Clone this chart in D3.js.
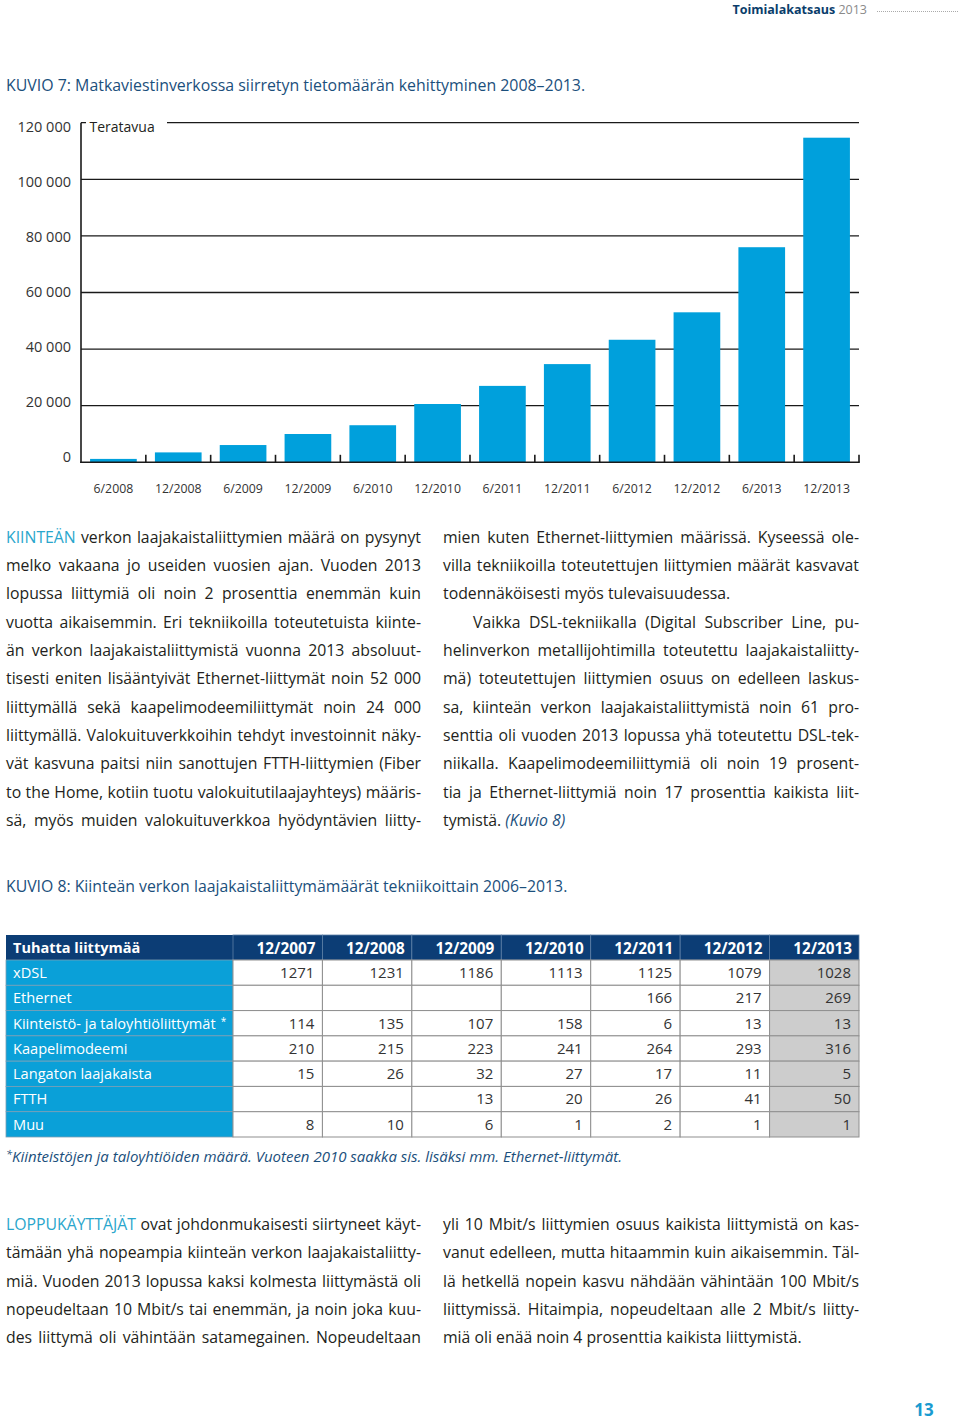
<!DOCTYPE html>
<html><head><meta charset="utf-8">
<script src="https://cdn.jsdelivr.net/npm/d3@7"></script>
<style>html,body{margin:0;padding:0;background:#fff;}svg{display:block;font-family:"Open Sans",sans-serif;}</style>
</head><body>
<script>
// ---------- DATA ----------
const chartTitle = "KUVIO 7: Matkaviestinverkossa siirretyn tietomäärän kehittyminen 2008–2013.";
const unitLabel = "Teratavua";
const categories = ["6/2008","12/2008","6/2009","12/2009","6/2010","12/2010","6/2011","12/2011","6/2012","12/2012","6/2013","12/2013"];
const values = [1200,3500,6100,10000,13100,20600,27000,34700,43300,53000,76000,114700];
const yTicks = [0,20000,40000,60000,80000,100000,120000];

const tableTitle = "KUVIO 8: Kiinteän verkon laajakaistaliittymämäärät tekniikoittain 2006–2013.";
const tableHeader = "Tuhatta liittymää";
const years = ["12/2007","12/2008","12/2009","12/2010","12/2011","12/2012","12/2013"];
const rowNames = ["xDSL","Ethernet","Kiinteistö- ja taloyhtiöliittymät","Kaapelimodeemi","Langaton laajakaista","FTTH","Muu"];
const xdsl = [1271,1231,1186,1113,1125,1079,1028];
const ethernet = [null,null,null,null,166,217,269];
const kiinteisto = [114,135,107,158,6,13,13];
const kaapeli = [210,215,223,241,264,293,316];
const langaton = [15,26,32,27,17,11,5];
const ftth = [null,null,13,20,26,41,50];
const muu = [8,10,6,1,2,1,1];
const footnote = "Kiinteistöjen ja taloyhtiöiden määrä. Vuoteen 2010 saakka sis. lisäksi mm. Ethernet-liittymät.";

const para1Left = [
 "[KIINTEÄN] verkon laajakaistaliittymien määrä on pysynyt",
 "melko vakaana jo useiden vuosien ajan. Vuoden 2013",
 "lopussa liittymiä oli noin 2 prosenttia enemmän kuin",
 "vuotta aikaisemmin. Eri tekniikoilla toteutetuista kiinte-",
 "än verkon laajakaistaliittymistä vuonna 2013 absoluut-",
 "tisesti eniten lisääntyivät Ethernet-liittymät noin 52 000",
 "liittymällä sekä kaapelimodeemiliittymät noin 24 000",
 "liittymällä. Valokuituverkkoihin tehdyt investoinnit näky-",
 "vät kasvuna paitsi niin sanottujen FTTH-liittymien (Fiber",
 "to the Home, kotiin tuotu valokuitutilaajayhteys) määris-",
 "sä, myös muiden valokuituverkkoa hyödyntävien liitty-"
];
const para1Right = [
 "mien kuten Ethernet-liittymien määrissä. Kyseessä ole-",
 "villa tekniikoilla toteutettujen liittymien määrät kasvavat",
 "todennäköisesti myös tulevaisuudessa.|",
 ">Vaikka DSL-tekniikalla (Digital Subscriber Line, pu-",
 "helinverkon metallijohtimilla toteutettu laajakaistaliitty-",
 "mä) toteutettujen liittymien osuus on edelleen laskus-",
 "sa, kiinteän verkon laajakaistaliittymistä noin 61 pro-",
 "senttia oli vuoden 2013 lopussa yhä toteutettu DSL-tek-",
 "niikalla. Kaapelimodeemiliittymiä oli noin 19 prosent-",
 "tia ja Ethernet-liittymiä noin 17 prosenttia kaikista liit-",
 "tymistä. {(Kuvio 8)}|"
];
const para2Left = [
 "[LOPPUKÄYTTÄJÄT] ovat johdonmukaisesti siirtyneet käyt-",
 "tämään yhä nopeampia kiinteän verkon laajakaistaliitty-",
 "miä. Vuoden 2013 lopussa kaksi kolmesta liittymästä oli",
 "nopeudeltaan 10 Mbit/s tai enemmän, ja noin joka kuu-",
 "des liittymä oli vähintään satamegainen. Nopeudeltaan"
];
const para2Right = [
 "yli 10 Mbit/s liittymien osuus kaikista liittymistä on kas-",
 "vanut edelleen, mutta hitaammin kuin aikaisemmin. Täl-",
 "lä hetkellä nopein kasvu nähdään vähintään 100 Mbit/s",
 "liittymissä. Hitaimpia, nopeudeltaan alle 2 Mbit/s liitty-",
 "miä oli enää noin 4 prosenttia kaikista liittymistä.|"
];

// ---------- STYLE ----------
const C = {text:"#231f20", title:"#1b4f7c", bar:"#00a0dc", grid:"#1a1a1a", accent:"#2aa6cc",
  navy:"#0c3d75", blueCol:"#0aa0d8", lastCol:"#cdcdcd", border:"#8f8f8f", page:"#1a9bd0"};

const svg = d3.select("body").append("svg").attr("width",960).attr("height",1423);

// ---------- PAGE HEADER ----------
const hdr = svg.append("text").attr("x",867).attr("y",14).attr("text-anchor","end").attr("font-size",12.5);
hdr.append("tspan").attr("font-weight","bold").attr("fill","#0a3d6b").text("Toimialakatsaus ");
hdr.append("tspan").attr("fill","#8a8a8a").text("2013");
svg.append("line").attr("x1",877).attr("x2",958).attr("y1",11.5).attr("y2",11.5)
  .attr("stroke","#aaa").attr("stroke-width",1).attr("stroke-dasharray","1,1");

// ---------- CHART ----------
svg.append("text").attr("x",6).attr("y",90.5).attr("font-size",15.9).attr("fill",C.title).text(chartTitle);

const x = d3.scaleBand().domain(categories).range([81,859]).paddingInner(0.28).paddingOuter(0.14);
const y = d3.scaleLinear().domain([0,120000]).range([462.3,122.7]);
const yLab = d3.scaleLinear().domain([0,120000]).range([461.7,131.7]);

const g = svg.append("g");
g.selectAll("line.grid").data(yTicks.filter(d=>d>0)).join("line").attr("class","grid")
  .attr("x1",81).attr("x2",859).attr("y1",d=>y(d)).attr("y2",d=>y(d))
  .attr("stroke",C.grid).attr("stroke-width",1.3);
g.append("rect").attr("x",86).attr("y",y(120000)-3).attr("width",81).attr("height",6).attr("fill","#fff");
g.append("text").attr("x",89.5).attr("y",131.7).attr("font-size",14).attr("fill",C.text).text(unitLabel);

g.selectAll("rect.bar").data(values).join("rect").attr("class","bar")
  .attr("x",(d,i)=>x(categories[i])).attr("width",x.bandwidth())
  .attr("y",d=>y(d)).attr("height",d=>y(0)-y(d)).attr("fill",C.bar);

g.append("line").attr("x1",81).attr("x2",81).attr("y1",y(120000)).attr("y2",y(0)+0.7)
  .attr("stroke",C.grid).attr("stroke-width",1.6);
g.append("line").attr("x1",80.2).attr("x2",859.8).attr("y1",y(0)).attr("y2",y(0))
  .attr("stroke",C.grid).attr("stroke-width",1.6);
g.selectAll("line.xt").data(categories).join("line").attr("class","xt")
  .attr("x1",d=>x(d)+x.step()*0.86).attr("x2",d=>x(d)+x.step()*0.86)
  .attr("y1",y(0)).attr("y2",y(0)-7.5).attr("stroke",C.grid).attr("stroke-width",1.6);

g.selectAll("text.yl").data(yTicks).join("text").attr("class","yl")
  .attr("x",71).attr("y",d=>yLab(d)).attr("text-anchor","end").attr("font-size",14.5).attr("fill","#333")
  .text(d=>d3.format(",")(d).replace(/,/g," "));
g.selectAll("text.xl").data(categories).join("text").attr("class","xl")
  .attr("x",d=>x(d)+x.bandwidth()/2).attr("y",493.3).attr("text-anchor","middle")
  .attr("font-size",12.3).attr("fill","#333").text(d=>d);

// ---------- PARAGRAPHS ----------
function drawLines(lines, x0, width, firstBase, lineH, fs){
  let state = "normal";
  lines.forEach((raw,li)=>{
    let s = raw, indent = 0, justify = true;
    if (s.startsWith(">")) { indent = 30; s = s.slice(1); }
    if (s.endsWith("|")) { justify = false; s = s.slice(0,-1); }
    const words = s.split(" ");
    const yb = firstBase + li*lineH;
    const lg = svg.append("g");
    const nodes = words.map(w=>{
      let st = state, txt = w;
      if (txt.startsWith("[")) { st = "accent"; state="accent"; txt = txt.slice(1); }
      if (txt.startsWith("{")) { st = "link"; state="link"; txt = txt.slice(1); }
      if (txt.endsWith("]")) { txt = txt.slice(0,-1); state="normal"; }
      if (txt.endsWith("}")) { txt = txt.slice(0,-1); state="normal"; }
      return lg.append("text").attr("y",yb).attr("font-size",fs).text(txt)
        .attr("fill", st==="accent"?C.accent:(st==="link"?C.title:C.text))
        .attr("font-style", st==="link"?"italic":null);
    });
    const ws = nodes.map(n=>n.node().getComputedTextLength());
    const sum = d3.sum(ws);
    const space = fs*0.26;
    const gap = (justify && words.length>1) ? (width-indent-sum)/(words.length-1) : space;
    let cx = x0+indent;
    nodes.forEach((n,i)=>{ n.attr("x",cx); cx += ws[i]+gap; });
  });
}
const BFS = 15.8;
drawLines(para1Left, 6, 415, 542.7, 28.33, BFS);
drawLines(para1Right, 443, 416, 542.7, 28.33, BFS);
drawLines(para2Left, 6, 415, 1230.2, 28.2, BFS);
drawLines(para2Right, 443, 416, 1230.2, 28.2, BFS);

// ---------- TABLE ----------
svg.append("text").attr("x",6).attr("y",892).attr("font-size",15.8).attr("fill",C.title).text(tableTitle);

const tableData = [xdsl, ethernet, kiinteisto, kaapeli, langaton, ftth, muu];
const colX = d3.scaleBand().domain(years).range([233,859]);
const rowY = d3.scaleBand().domain(rowNames).range([960,1137]);
const t = svg.append("g");
t.append("rect").attr("x",6).attr("y",935).attr("width",227).attr("height",25).attr("fill",C.navy);
t.selectAll("rect.hc").data(years).join("rect").attr("class","hc")
  .attr("x",d=>colX(d)).attr("y",935).attr("width",colX.bandwidth()).attr("height",25)
  .attr("fill",C.navy).attr("stroke","#5d7fa6").attr("stroke-width",0.8);
t.append("text").attr("x",13).attr("y",953.3).attr("font-size",14.5).attr("font-weight","bold")
  .attr("fill","#fff").text(tableHeader);
t.selectAll("text.ht").data(years).join("text").attr("class","ht")
  .attr("x",d=>colX(d)+colX.bandwidth()-7).attr("y",953.5).attr("text-anchor","end")
  .attr("font-size",15.3).attr("font-weight","bold").attr("fill","#fff").text(d=>d);
rowNames.forEach((rn,ri)=>{
  const ry = rowY(rn), rh = rowY.bandwidth();
  t.append("rect").attr("x",6).attr("y",ry).attr("width",227).attr("height",rh)
    .attr("fill",C.blueCol).attr("stroke","#7a9fb5").attr("stroke-width",0.8);
  const lt = t.append("text").attr("x",13).attr("y",ry+18).attr("font-size",14.6).attr("fill","#fff").text(rn);
  if (ri===2) lt.append("tspan").attr("dx",5).attr("dy",-4).attr("font-size",10).text("*");
  years.forEach((yr,ci)=>{
    t.append("rect").attr("x",colX(yr)).attr("y",ry).attr("width",colX.bandwidth()).attr("height",rh)
      .attr("fill", ci===years.length-1?C.lastCol:"#fff").attr("stroke",C.border).attr("stroke-width",1);
    const v = tableData[ri][ci];
    if (v!==null) t.append("text").attr("x",colX(yr)+colX.bandwidth()-8).attr("y",ry+18)
      .attr("text-anchor","end").attr("font-size",15).attr("fill","#333").text(v);
  });
});
const fn = svg.append("text").attr("x",6).attr("y",1161.7).attr("font-size",15).attr("font-style","italic").attr("fill",C.title);
fn.append("tspan").attr("font-size",11).attr("dy",-4).text("*");
fn.append("tspan").attr("dy",4).text(footnote);

// ---------- PAGE NUMBER ----------
svg.append("text").attr("x",924).attr("y",1416).attr("text-anchor","middle").attr("font-size",17)
  .attr("font-weight","bold").attr("fill",C.page).text("13");
</script>
</body></html>
